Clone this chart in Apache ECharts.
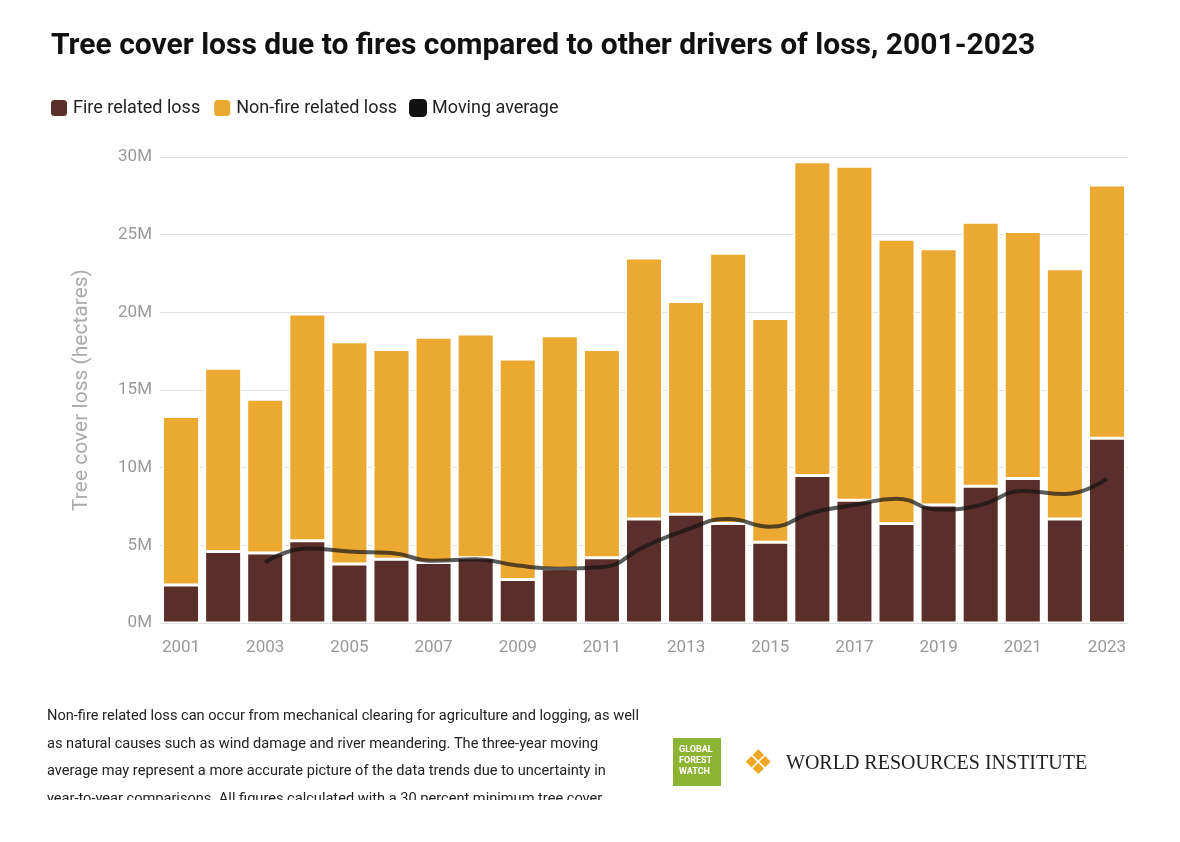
<!DOCTYPE html>
<html>
<head>
<meta charset="utf-8">
<script src="https://cdn.jsdelivr.net/npm/echarts@6/dist/echarts.min.js"></script>
<style>
  body { margin: 0; background: #fff; }
  #main { width: 1180px; height: 842px; }
</style>
</head>
<body>
<div id="main"></div>
<script>
var years = ['2001','2002','2003','2004','2005','2006','2007','2008','2009','2010','2011','2012',
             '2013','2014','2015','2016','2017','2018','2019','2020','2021','2022','2023'];
// million hectares
var fireLoss = [2.45, 4.6, 4.5, 5.3, 3.8, 4.1, 3.9, 4.2, 2.8, 3.5, 4.2, 6.7,
                7.0, 6.4, 5.2, 9.5, 7.9, 6.4, 7.6, 8.8, 9.3, 6.7, 11.9];
var nonFireLoss = [10.85, 11.8, 9.9, 14.6, 14.3, 13.5, 14.5, 14.4, 14.2, 15.0, 13.4, 16.8,
                   13.7, 17.4, 14.4, 20.2, 21.5, 18.3, 16.5, 17.0, 15.9, 16.1, 16.3];
var movingAvg = [null, null, 3.9, 4.8, 4.6, 4.5, 4.0, 4.1, 3.7, 3.5, 3.6, 4.9,
                 6.0, 6.7, 6.2, 7.1, 7.6, 8.0, 7.3, 7.6, 8.5, 8.3, 9.3];

var font = '"Liberation Sans Narrow", "Roboto", sans-serif';
var myChart = echarts.init(document.getElementById('main'));
myChart.setOption({
    textStyle: { fontFamily: font },
    title: {
        text: 'Tree cover loss due to fires compared to other drivers of loss, 2001-2023',
        left: 46, top: 26,
        textStyle: { fontFamily: font, fontSize: 30, fontWeight: 'bold', color: '#111' }
    },
    legend: {
        left: 44, top: 93,
        itemWidth: 18, itemHeight: 18, itemGap: 12,
        icon: 'roundRect',
        textStyle: { fontFamily: font, fontSize: 18, color: '#222' },
        data: [
            { name: 'Fire related loss', itemStyle: { color: '#5a2e2a' } },
            { name: 'Non-fire related loss', itemStyle: { color: '#eca932' } },
            { name: 'Moving average', itemStyle: { color: '#111' } }
        ]
    },
    grid: { left: 160, right: 52, top: 157, bottom: 219 },
    xAxis: {
        type: 'category', data: years,
        axisLine: { show: false }, axisTick: { show: false },
        axisLabel: { interval: 1, color: '#999', fontSize: 17, margin: 16 }
    },
    yAxis: {
        type: 'value', min: 0, max: 30, interval: 5,
        name: 'Tree cover loss (hectares)', nameLocation: 'middle', nameGap: 68,
        nameTextStyle: { color: '#aaa', fontSize: 21, fontFamily: font },
        axisLabel: { color: '#999', fontSize: 17, formatter: function (v) { return v + 'M'; } },
        splitLine: { lineStyle: { color: '#e2e2e2' } }
    },
    series: [
        { name: 'Fire related loss', type: 'bar', stack: 'a', data: fireLoss, barCategoryGap: '12%',
          itemStyle: { color: '#5a2e2a', borderColor: '#fff', borderWidth: 1.5 } },
        { name: 'Non-fire related loss', type: 'bar', stack: 'a', data: nonFireLoss,
          itemStyle: { color: '#eca932', borderColor: '#fff', borderWidth: 1.5 } },
        { name: 'Moving average', type: 'line', data: movingAvg, smooth: true, symbol: 'none',
          lineStyle: { color: 'rgba(20,20,20,0.7)', width: 4 }, z: 5 }
    ],
    graphic: [
        { type: 'text', left: 47, top: 703,
          style: { text: 'Non-fire related loss can occur from mechanical clearing for agriculture and logging, as well\nas natural causes such as wind damage and river meandering. The three-year moving\naverage may represent a more accurate picture of the data trends due to uncertainty in\nyear-to-year comparisons. All figures calculated with a 30 percent minimum tree cover',
                   font: '14.6px "Liberation Sans Narrow", Roboto, sans-serif', fill: '#222', lineHeight: 27.5 } },
        { type: 'rect', left: 0, top: 800, shape: { width: 1180, height: 42 }, style: { fill: '#fff' } },
        { type: 'rect', left: 673, top: 738, shape: { width: 48, height: 48 }, style: { fill: '#8bb432' } },
        { type: 'text', left: 679, top: 744,
          style: { text: 'GLOBAL\nFOREST\nWATCH', font: 'bold 9px Roboto, sans-serif', fill: '#fff', lineHeight: 11 } },
        { type: 'text', left: 743, top: 748,
          style: { text: '❖', font: '34px "DejaVu Sans"', fill: '#f0a824' } },
        { type: 'text', left: 786, top: 754,
          style: { text: 'WORLD RESOURCES INSTITUTE', font: '20px "Liberation Serif", serif', fill: '#222' } }
    ]
});
</script>
</body>
</html>
